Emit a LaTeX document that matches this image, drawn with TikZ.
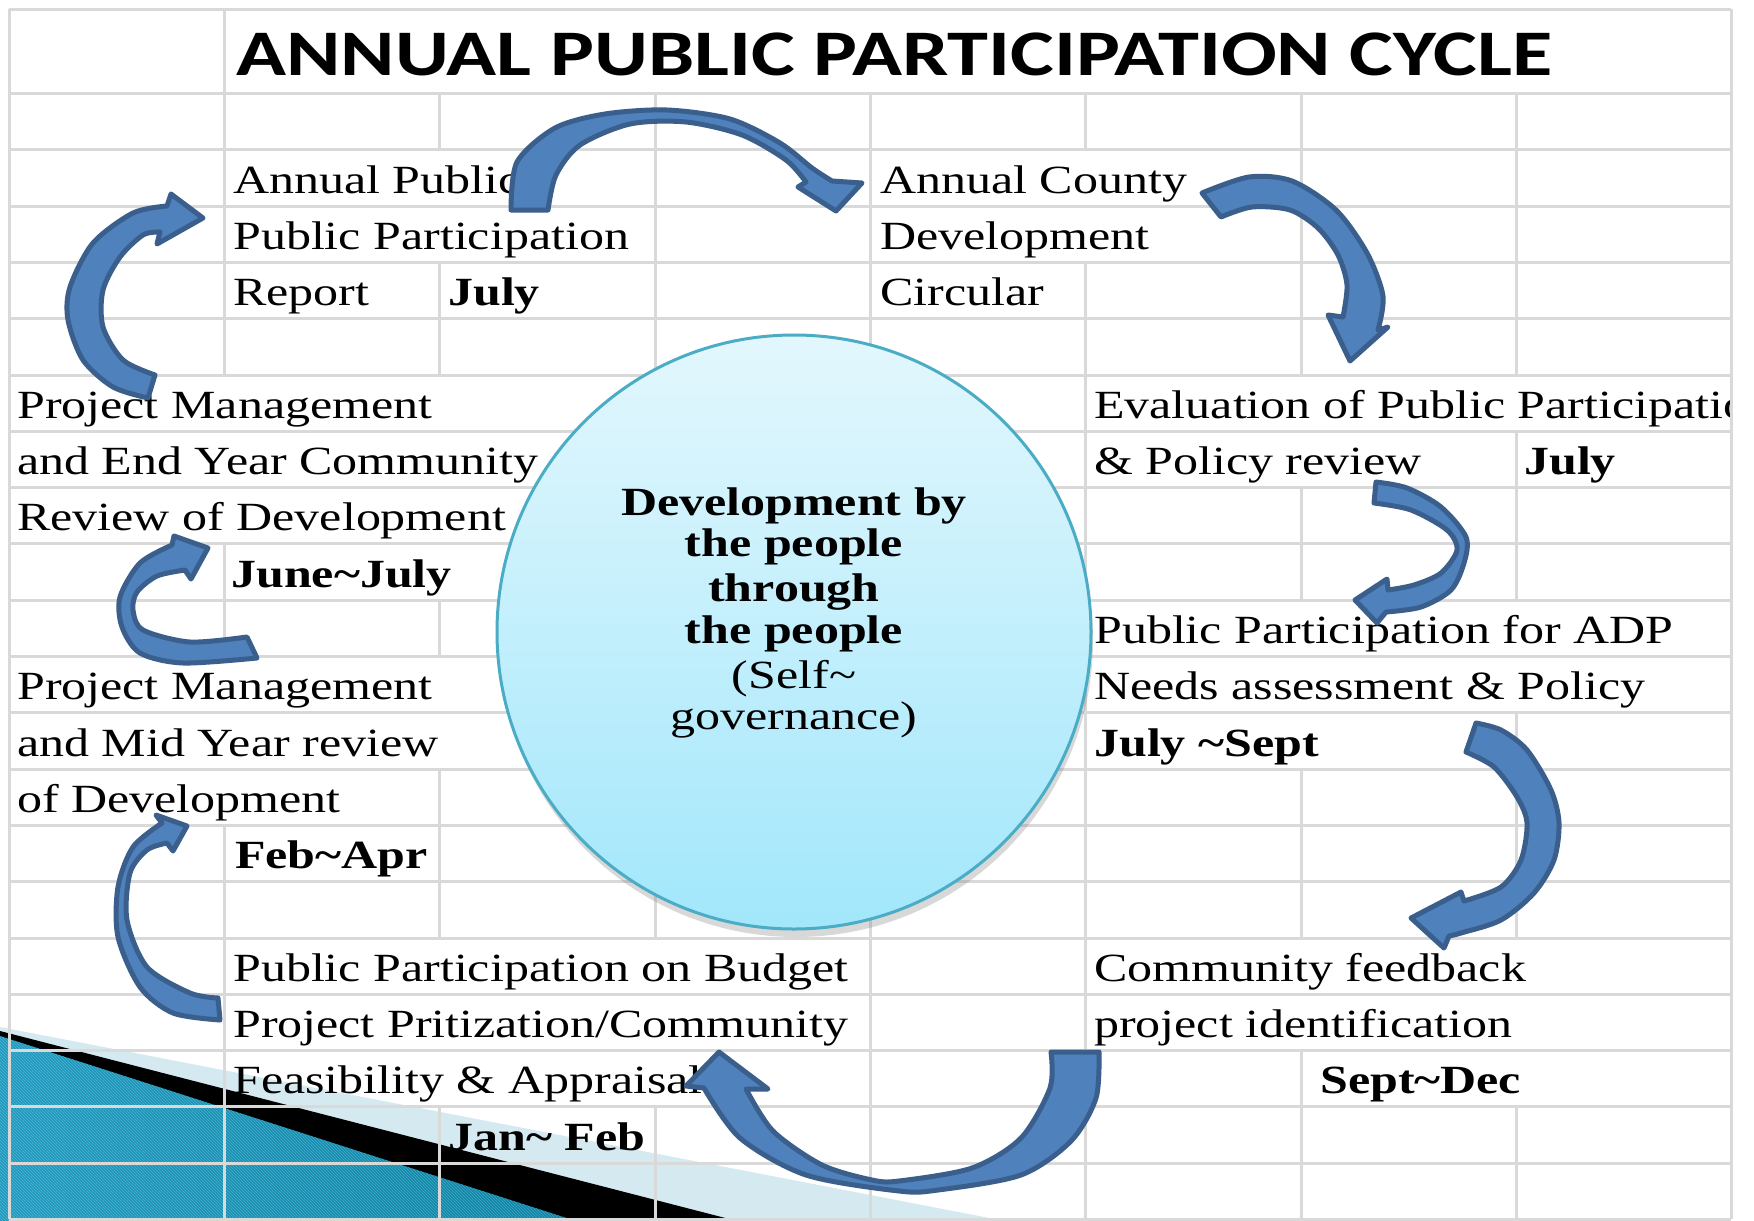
\documentclass[tikz,border=0pt]{standalone}
\usepackage{fontspec}
\usetikzlibrary{shadows,patterns}
\newfontfamily\cellfont{Liberation Serif}[FakeStretch=1.25]
\newfontfamily\headfont{Carlito}[FakeStretch=1.27]
\definecolor{gridgray}{HTML}{D9D9D9}
\definecolor{arrowfill}{HTML}{4F81BD}
\definecolor{arrowedge}{HTML}{3A5F8C}
\definecolor{hubedge}{HTML}{4BACC6}
\definecolor{hubtop}{HTML}{E3F7FD}
\definecolor{hubbottom}{HTML}{A2E7FB}
\definecolor{bandlight}{HTML}{D5E9F1}
\definecolor{tealmid}{HTML}{1E9AC0}
\definecolor{teallight}{HTML}{56C2E0}
\definecolor{tealdark}{HTML}{0B84A6}
\tikzset{
  cell/.style={anchor=base west, inner sep=0pt, font=\cellfont\fontsize{40}{43}\selectfont},
  cellbold/.style={cell, font=\cellfont\bfseries\fontsize{40}{43}\selectfont},
  grid line/.style={draw=gridgray, line width=3pt},
  block arrow/.style={fill=arrowfill, draw=arrowedge, line width=5pt, line join=round},
  hub/.style={circle, minimum size=594pt, inner sep=0pt, draw=hubedge, line width=3pt,
    top color=hubtop, bottom color=hubbottom,
    drop shadow={shadow xshift=2pt, shadow yshift=-8pt, opacity=0.3}},
  motto/.style={anchor=base, inner sep=0pt, font=\cellfont\bfseries\fontsize{40}{43}\selectfont},
  mottoplain/.style={motto, font=\cellfont\fontsize{40}{43}\selectfont}
}
\begin{document}
\begin{tikzpicture}[x=1pt, y=-1pt]
		%%%%% START %%%%%
		\useasboundingbox (0,0) rectangle (1754,1221);
		\fill[white] (0,0) rectangle (1754,1221);
		
		% corner bands
		\fill[bandlight] (0,1027) -- (1005,1221) -- (0,1221) -- cycle;
		\fill[black] (0,1031) -- (737,1221) -- (0,1221) -- cycle;
		\shade[left color=tealmid, middle color=teallight, right color=tealdark] (0,1036) -- (576,1221) -- (0,1221) -- cycle;
		\fill[pattern=north west lines, pattern color=white, opacity=0.25] (0,1036) -- (576,1221) -- (0,1221) -- cycle;
		
		% sheet grid
		\draw[grid line] (9,9) -- (1731,9) (9,93) -- (1731,93) (9,149) -- (1731,149) (9,206) -- (1731,206);
		\draw[grid line] (9,262) -- (1731,262) (9,318) -- (1731,318) (9,375) -- (1731,375) (9,431) -- (1731,431);
		\draw[grid line] (9,487) -- (1731,487) (9,543) -- (1731,543) (9,600) -- (1731,600) (9,656) -- (1731,656);
		\draw[grid line] (9,712) -- (1731,712) (9,769) -- (1731,769) (9,825) -- (1731,825) (9,881) -- (1731,881);
		\draw[grid line] (9,938) -- (1731,938) (9,994) -- (1731,994) (9,1050) -- (1731,1050) (9,1106) -- (1731,1106);
		\draw[grid line] (9,1163) -- (1731,1163) (9,1219) -- (1731,1219);
		
		\draw[grid line] (9,9) -- (9,1219) (1731,9) -- (1731,1219);
		\draw[grid line] (224,9) -- (224,375) (224,543) -- (224,656) (224,825) -- (224,1219);
		\draw[grid line] (439,93) -- (439,149) (439,262) -- (439,375) (439,600) -- (439,656) (439,769) -- (439,938) (439,1106) -- (439,1219);
		\draw[grid line] (655,93) -- (655,938) (655,1106) -- (655,1219);
		\draw[grid line] (870,93) -- (870,1219);
		\draw[grid line] (1085,93) -- (1085,149) (1085,262) -- (1085,1219);
		\draw[grid line] (1301,93) -- (1301,375) (1301,487) -- (1301,600) (1301,769) -- (1301,938) (1301,1050) -- (1301,1219);
		\draw[grid line] (1516,93) -- (1516,375) (1516,431) -- (1516,600) (1516,712) -- (1516,938) (1516,1106) -- (1516,1219);
		
		% title
		\node[anchor=base west, inner sep=0pt, font=\headfont\bfseries\fontsize{65}{70}\selectfont] (title) at (236,75) {ANNUAL PUBLIC PARTICIPATION CYCLE};
		
		% cell texts
		\begin{scope}
		\clip (0,0) rectangle (1729,1221);
		\node[cell] (report1) at (233,193) {Annual Public};
		\node[cell] (report2) at (233,249) {Public Participation};
		\node[cell] (report3) at (233,305) {Report};
		\node[cellbold] (reportdate) at (448,305) {July};
		
		\node[cell] (circular1) at (880,193) {Annual County};
		\node[cell] (circular2) at (880,249) {Development};
		\node[cell] (circular3) at (880,305) {Circular};
		
		\node[cell] (evaluation1) at (1094,418) {Evaluation of Public Participation};
		\node[cell] (evaluation2) at (1094,474) {\& Policy review};
		\node[cellbold] (evaluationdate) at (1524,474) {July};
		
		\node[cell] (needs1) at (1094,643) {Public Participation for ADP};
		\node[cell] (needs2) at (1094,699) {Needs assessment \& Policy};
		\node[cellbold] (needsdate) at (1094,756) {July \textasciitilde Sept};
		
		\node[cell] (feedback1) at (1094,981) {Community feedback};
		\node[cell] (feedback2) at (1094,1037) {project identification};
		\node[cellbold] (feedbackdate) at (1320,1093) {Sept\textasciitilde Dec};
		
		\node[cell] (budget1) at (233,981) {Public Participation on Budget};
		\node[cell] (budget2) at (233,1037) {Project Pritization/Community};
		\node[cell] (budget3) at (233,1093) {Feasibility \& Appraisal};
		\node[cellbold] (budgetdate) at (448,1150) {Jan\textasciitilde{} Feb};
		
		\node[cell] (midyear1) at (17,699) {Project Management};
		\node[cell] (midyear2) at (17,756) {and Mid Year review};
		\node[cell] (midyear3) at (17,812) {of Development};
		\node[cellbold] (midyeardate) at (235,868) {Feb\textasciitilde Apr};
		
		\node[cell] (endyear1) at (17,418) {Project Management};
		\node[cell] (endyear2) at (17,474) {and End Year Community};
		\node[cell] (endyear3) at (17,530) {Review of Development};
		\node[cellbold] (endyeardate) at (231,587) {June\textasciitilde July};
		\end{scope}
		
		% centre
		\node[hub] (hub) at (794,632) {};
		\node[motto] (motto1) at (794,515) {Development by};
		\node[motto] (motto2) at (794,556) {the people};
		\node[motto] (motto3) at (794,601) {through};
		\node[motto] (motto4) at (794,643) {the people};
		\node[mottoplain] (motto5) at (794,688) {(Self\textasciitilde};
		\node[mottoplain] (motto6) at (794,729) {governance)};
		
		% curved arrows
		\draw[block arrow] plot[smooth] coordinates {(511,210) (517,162) (555,128) (605,114) (667,110) (730,119) (780,143) (812,168) (832,181)}
			-- (862,183) -- (836,211) -- (798,187) -- (806,182)
			-- plot[smooth] coordinates {(806,182) (786,160) (742,135) (686,122) (630,124) (580,145) (556,175) (548,210)} -- cycle;
		\draw[block arrow] plot[smooth] coordinates {(1202,193) (1249,177) (1292,181) (1336,210) (1367,253) (1383,296) (1378,330)}
			-- (1388,327) -- (1350,361) -- (1328,315) -- (1343,317)
			-- plot[smooth] coordinates {(1343,317) (1347,285) (1338,255) (1318,228) (1290,210) (1252,207) (1221,217)} -- cycle;
		\draw[block arrow] plot[smooth] coordinates {(1376,482) (1407,488) (1441,507) (1466,537) (1464,563) (1451,590) (1421,607) (1386,612)}
			-- (1377,623) -- (1355,600) -- (1387,579) -- (1388,590)
			-- plot[smooth] coordinates {(1388,590) (1414,585) (1441,573) (1457,550) (1447,530) (1411,510) (1374,503)} -- cycle;
		\draw[block arrow] plot[smooth] coordinates {(1476,723) (1501,730) (1527,750) (1551,790) (1559,823) (1554,860) (1534,893) (1501,920) (1461,933) (1449,936)}
			-- (1444,948) -- (1411,918) -- (1461,892) -- (1464,901)
			-- plot[smooth] coordinates {(1464,901) (1501,887) (1521,860) (1527,823) (1517,797) (1494,767) (1466,752)} -- cycle;
		\draw[block arrow] plot[smooth] coordinates {(1099,1052) (1096,1098) (1071,1141) (1021,1175) (938,1190) (899,1191) (806,1175) (740,1138) (704,1088)}
			-- (686,1086) -- (719,1052) -- (768,1089) -- (746,1089)
			-- plot[smooth] coordinates {(746,1089) (773,1131) (822,1165) (872,1180) (899,1181) (972,1168) (1021,1138) (1050,1088) (1051,1052)} -- cycle;
		\draw[block arrow] plot[smooth] coordinates {(220,1020) (173,1013) (140,987) (118,937) (118,887) (133,847) (162,823)}
			-- (156,815) -- (187,826) -- (173,851) -- (167,843)
			-- plot[smooth] coordinates {(167,843) (147,850) (130,873) (127,920) (147,967) (190,993) (218,998)} -- cycle;
		\draw[block arrow] plot[smooth] coordinates {(257,658) (183,663) (140,653) (122,627) (120,597) (140,563) (172,545)}
			-- (174,536) -- (208,548) -- (191,579) -- (185,570)
			-- plot[smooth] coordinates {(185,570) (157,576) (137,592) (133,610) (143,630) (190,642) (247,637)} -- cycle;
		\draw[block arrow] plot[smooth] coordinates {(148,398) (113,387) (83,360) (68,320) (70,287) (93,243) (133,213) (167,206)}
			-- (171,194) -- (203,218) -- (157,244) -- (160,232)
			-- plot[smooth] coordinates {(160,232) (143,235) (120,257) (103,290) (103,327) (123,360) (155,375)} -- cycle;
		
		%%%%% END %%%%%
\end{tikzpicture}
\end{document}
